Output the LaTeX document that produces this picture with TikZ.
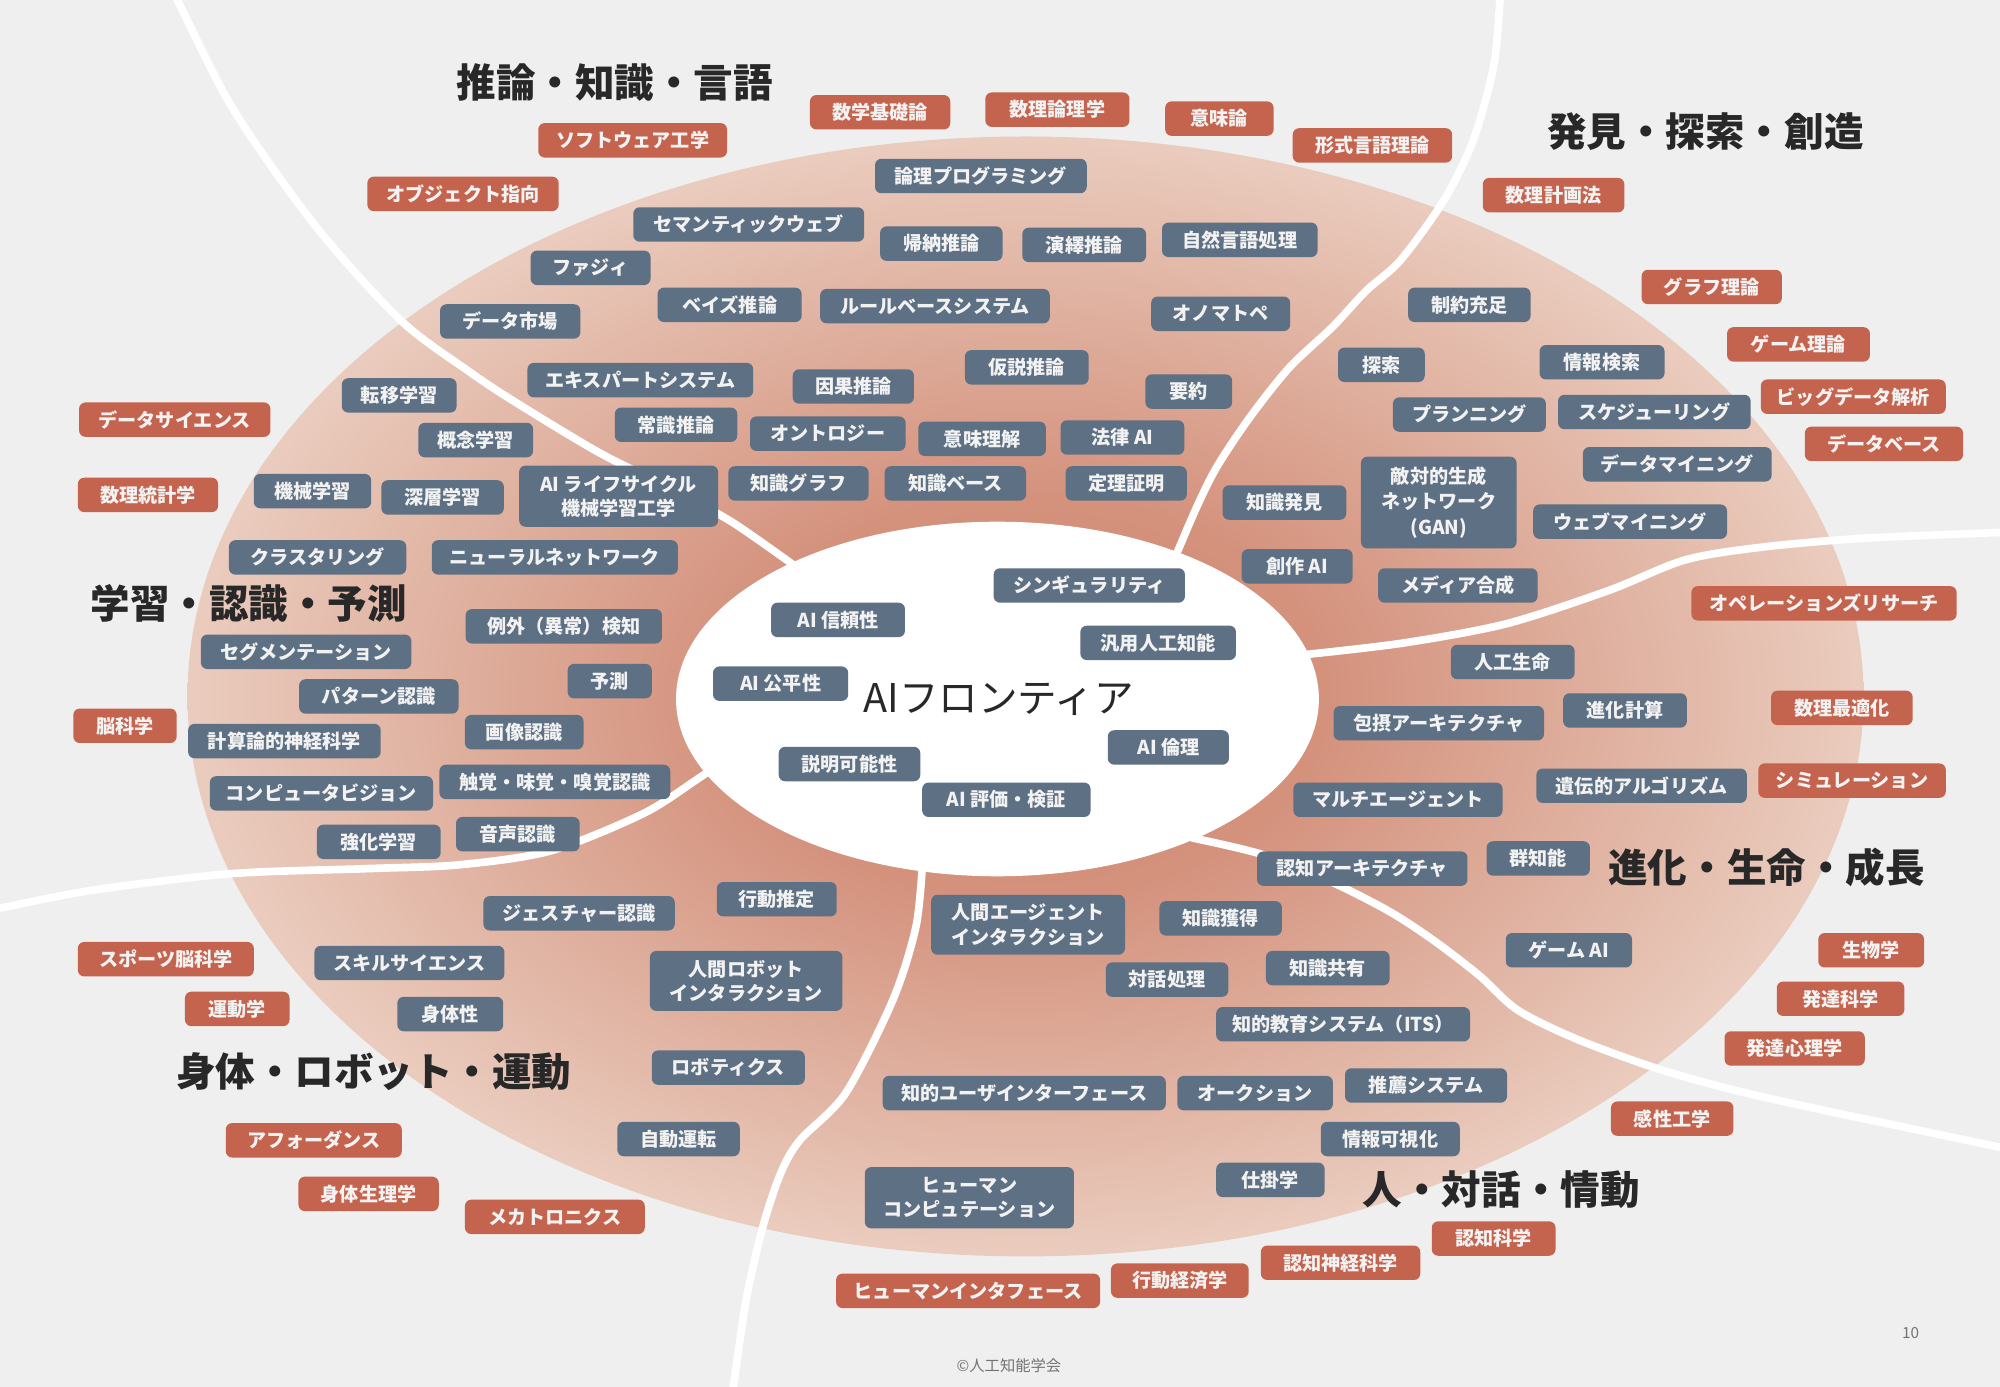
\documentclass[tikz,border=0pt]{standalone}
\usepackage{fontspec}
\setmainfont{Noto Sans CJK JP}
\definecolor{bgc}{RGB}{239,239,239}
\definecolor{redc}{RGB}{196,100,78}
\definecolor{grayc}{RGB}{94,112,131}
\definecolor{boxtxt}{RGB}{242,242,242}
\definecolor{ttlc}{RGB}{40,40,40}
\definecolor{shA}{RGB}{205,128,106}
\definecolor{shB}{RGB}{212,146,125}
\definecolor{shC}{RGB}{234,204,190}
\pgfdeclareradialshading{ellshade}{\pgfpoint{0bp}{0bp}}{color(0bp)=(shA); color(9bp)=(shB); color(25bp)=(shC); color(100bp)=(shC)}
\newcommand\RBox[5]{\node[rbox, minimum width=#4pt] (#1) at (#2,#3) {#5};}
\newcommand\GBox[5]{\node[gbox, minimum width=#4pt] (#1) at (#2,#3) {#5};}
\begin{document}
\begin{tikzpicture}[x=1pt,y=-1pt,
  box/.style={rounded corners=5pt, inner sep=0pt, minimum height=27pt, text=boxtxt,
    font=\fontsize{15}{19}\selectfont\bfseries, align=center},
  rbox/.style={box, fill=redc},
  gbox/.style={box, fill=grayc},
  ttl/.style={font=\fontsize{31}{34}\selectfont\bfseries, text=ttlc},
  divider/.style={white, line width=6pt, line cap=round, line join=round}]
\useasboundingbox (0,0) rectangle (1568,1087.4);
\fill[bgc] (0,0) rectangle (1568,1087.4);
% big shaded ellipse
\shade[shading=ellshade] (804,546) ellipse [x radius=657pt, y radius=439pt];
% white dividers
\draw[divider] plot[smooth] coordinates {(132,-12) (139,0) (183,86) (248,178) (314,251) (366,290) (402,314) (470,355) (530,385) (575,410) (625,445)};
\draw[divider] plot[smooth] coordinates {(1177,-12) (1176,0) (1171,52) (1155,110) (1132,157) (1098,204) (1071,228) (1045,256) (1011,288) (980,327) (954,366) (938,398) (920,440)};
\draw[divider] plot[smooth] coordinates {(1025,513) (1101,504) (1181,489) (1261,463) (1321,439) (1381,429) (1461,422) (1580,417)};
\draw[divider] plot[smooth] coordinates {(935,657) (990,670) (1045,692) (1090,715) (1125,738) (1160,765) (1190,792) (1237,815) (1300,838) (1361,855) (1423,869) (1485,882) (1580,902)};
\draw[divider] plot[smooth] coordinates {(-12,714) (0,712) (72,698) (180,685) (288,681) (360,678) (432,667) (504,638) (545,612) (565,598)};
\draw[divider] plot[smooth] coordinates {(723,680) (718,727) (700,784) (663,857) (627,894) (612,920) (598,962) (585,1019) (575,1087) (573,1100)};
% inner white ellipse
\fill[white] (782,548) ellipse [x radius=252pt, y radius=139pt];
\node[font=\fontsize{31}{34}\selectfont, text=ttlc] (center) at (783,548) {AIフロンティア};
% titles
\node[ttl] (t1) at (482,65) {推論・知識・言語};
\node[ttl] (t2) at (1337,103) {発見・探索・創造};
\node[ttl] (t3) at (195,473) {学習・認識・予測};
\node[ttl] (t4) at (1385,680) {進化・生命・成長};
\node[ttl] (t5) at (293,840) {身体・ロボット・運動};
\node[ttl] (t6) at (1177,933) {人・対話・情動};
% red boxes
\RBox{r1}{496}{110}{148}{ソフトウェア工学}
\RBox{r2}{363}{152}{150}{オブジェクト指向}
\RBox{r3}{690}{88}{110}{数学基礎論}
\RBox{r4}{829}{86}{113}{数理論理学}
\RBox{r5}{956}{93}{85}{意味論}
\RBox{r6}{1076}{114}{125}{形式言語理論}
\RBox{r7}{1218}{153}{111}{数理計画法}
\RBox{r8}{1342}{225}{110}{グラフ理論}
\RBox{r9}{1410}{270}{112}{ゲーム理論}
\RBox{r10}{1453}{311}{145}{ビッグデータ解析}
\RBox{r11}{1477}{348}{124}{データベース}
\RBox{r12}{1430}{473}{208}{オペレーションズリサーチ}
\RBox{r13}{1444}{555}{111}{数理最適化}
\RBox{r14}{1452}{612}{147}{シミュレーション}
\RBox{r15}{1467}{745}{83}{生物学}
\RBox{r16}{1443}{783}{100}{発達科学}
\RBox{r17}{1407}{822}{110}{発達心理学}
\RBox{r18}{1311}{877}{96}{感性工学}
\RBox{r19}{1171}{971}{97}{認知科学}
\RBox{r20}{1051}{990}{125}{認知神経科学}
\RBox{r21}{925}{1004}{108}{行動経済学}
\RBox{r22}{759}{1012}{207}{ヒューマンインタフェース}
\RBox{r23}{435}{954}{141}{メカトロニクス}
\RBox{r24}{289}{936}{110}{身体生理学}
\RBox{r25}{246}{894}{138}{アフォーダンス}
\RBox{r26}{186}{791}{82}{運動学}
\RBox{r27}{130}{752}{138}{スポーツ脳科学}
\RBox{r28}{98}{569}{81}{脳科学}
\RBox{r29}{116}{388}{110}{数理統計学}
\RBox{r30}{137}{329}{150}{データサイエンス}
% gray boxes - reasoning
\GBox{g1}{769}{138}{166}{論理プログラミング}
\GBox{g2}{587}{176}{181}{セマンティックウェブ}
\GBox{g3}{738}{191}{96}{帰納推論}
\GBox{g4}{850}{192}{97}{演繹推論}
\GBox{g5}{972}{188}{122}{自然言語処理}
\GBox{g6}{463}{210}{94}{ファジィ}
\GBox{g7}{572}{239}{113}{ベイズ推論}
\GBox{g8}{733}{240}{180}{ルールベースシステム}
\GBox{g9}{400}{252}{110}{データ市場}
\GBox{g10}{957}{246}{109}{オノマトペ}
\GBox{g11}{502}{298}{177}{エキスパートシステム}
\GBox{g12}{669}{303}{95}{因果推論}
\GBox{g13}{805}{288}{97}{仮説推論}
\GBox{g14}{932}{307}{68}{要約}
\GBox{g15}{313}{310}{90}{転移学習}
\GBox{g16}{530}{333}{96}{常識推論}
\GBox{g17}{649}{340}{122}{オントロジー}
\GBox{g18}{770}{344}{100}{意味理解}
\GBox{g19}{880}{343}{97}{法律 AI}
\GBox{g20}{373}{345}{90}{概念学習}
\GBox{g21}{245}{385}{92}{機械学習}
\GBox{g22}{347}{390}{96}{深層学習}
\node[gbox, minimum width=156pt, minimum height=48pt] (g23) at (485,389) {AI ライフサイクル\\機械学習工学};
\GBox{g24}{626}{379}{110}{知識グラフ}
\GBox{g25}{749}{379}{111}{知識ベース}
\GBox{g26}{883}{379}{95}{定理証明}
% learning
\GBox{g27}{249}{437}{139}{クラスタリング}
\GBox{g28}{435}{437}{193}{ニューラルネットワーク}
\GBox{g29}{442}{491}{154}{例外（異常）検知}
\GBox{g30}{240}{511}{165}{セグメンテーション}
\GBox{g31}{478}{534}{66}{予測}
\GBox{g32}{297}{546}{125}{パターン認識}
\GBox{g33}{223}{581}{151}{計算論的神経科学}
\GBox{g34}{411}{574}{93}{画像認識}
\GBox{g35}{252}{622}{175}{コンピュータビジョン}
\GBox{g36}{435}{613}{181}{触覚・味覚・嗅覚認識}
\GBox{g37}{297}{660}{97}{強化学習}
\GBox{g38}{406}{654}{97}{音声認識}
% discovery
\GBox{g39}{1152}{239}{96}{制約充足}
\GBox{g40}{1083}{286}{68}{探索}
\GBox{g41}{1256}{284}{98}{情報検索}
\GBox{g42}{1152}{325}{120}{プランニング}
\GBox{g43}{1297}{323}{151}{スケジューリング}
\GBox{g44}{1315}{364}{148}{データマイニング}
\GBox{g45}{1007}{394}{97}{知識発見}
\node[gbox, minimum width=122pt, minimum height=72pt, font=\fontsize{15}{20}\selectfont\bfseries] (g46) at (1128,394) {敵対的生成\\ネットワーク\\(GAN)};
\GBox{g47}{1278}{409}{152}{ウェブマイニング}
\GBox{g48}{1017}{444}{87}{創作 AI}
\GBox{g49}{1143}{459}{125}{メディア合成}
% center
\GBox{g50}{854}{459}{150}{シンギュラリティ}
\GBox{g51}{657}{486}{105}{AI 信頼性}
\GBox{g52}{908}{504}{122}{汎用人工知能}
\GBox{g53}{612}{536}{106}{AI 公平性}
\GBox{g54}{916}{586}{95}{AI 倫理}
\GBox{g55}{666}{599}{111}{説明可能性}
\GBox{g56}{789}{627}{132}{AI 評価・検証}
% evolution
\GBox{g57}{1186}{519}{97}{人工生命}
\GBox{g58}{1128}{567}{165}{包摂アーキテクチャ}
\GBox{g59}{1274}{557}{97}{進化計算}
\GBox{g60}{1096}{627}{164}{マルチエージェント}
\GBox{g61}{1287}{616}{165}{遺伝的アルゴリズム}
\GBox{g62}{1068}{681}{165}{認知アーキテクチャ}
\GBox{g63}{1206}{673}{81}{群知能}
\GBox{g64}{1230}{745}{99}{ゲーム AI}
% human
\node[gbox, minimum width=152pt, minimum height=47pt] (g65) at (806,725) {人間エージェント\\インタラクション};
\GBox{g66}{957}{720}{96}{知識獲得}
\GBox{g67}{915}{768}{96}{対話処理}
\GBox{g68}{1041}{759}{97}{知識共有}
\GBox{g69}{1053}{803}{199}{知的教育システム（ITS）}
\GBox{g70}{803}{857}{222}{知的ユーザインターフェース}
\GBox{g71}{984}{857}{122}{オークション}
\GBox{g72}{1118}{851}{127}{推薦システム}
\GBox{g73}{1090}{893}{109}{情報可視化}
\GBox{g74}{996}{925}{85}{仕掛学}
\node[gbox, minimum width=164pt, minimum height=48pt] (g75) at (760,939) {ヒューマン\\コンピュテーション};
% body
\GBox{g76}{609}{705}{94}{行動推定}
\GBox{g77}{454}{716}{150}{ジェスチャー認識}
\GBox{g78}{321}{755}{149}{スキルサイエンス}
\node[gbox, minimum width=151pt, minimum height=47pt] (g79) at (585,769) {人間ロボット\\インタラクション};
\GBox{g80}{353}{795}{83}{身体性}
\GBox{g81}{571}{837}{120}{ロボティクス}
\GBox{g82}{532}{893}{96}{自動運転}
% footer
\node[font=\fontsize{12}{14}\selectfont, text=black!55] (copy) at (791,1071) {©人工知能学会};
\node[font=\fontsize{12}{14}\selectfont, text=black!55] (page) at (1498,1045) {10};
\end{tikzpicture}
\end{document}
